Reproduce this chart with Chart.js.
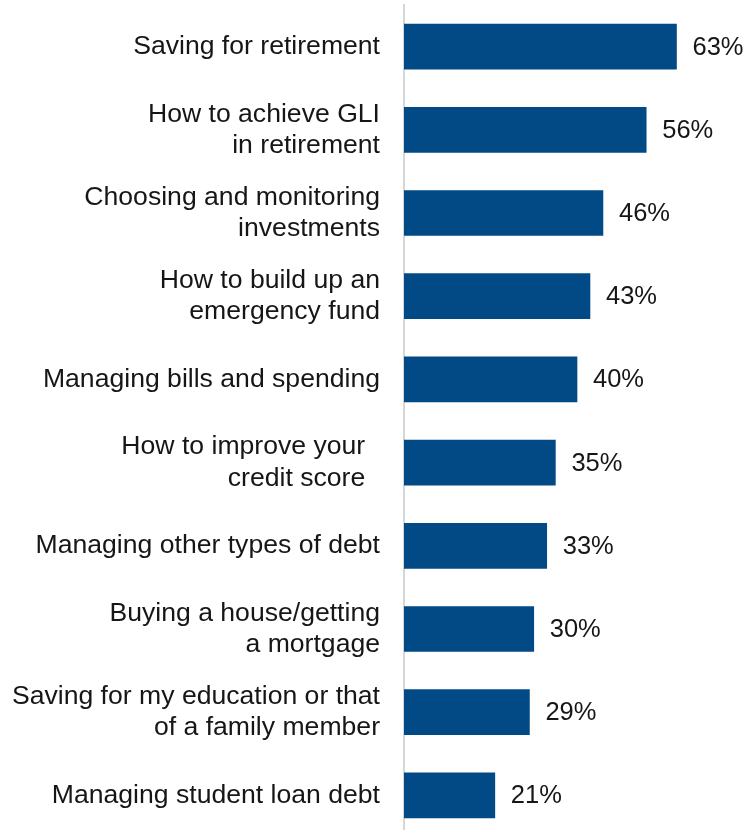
<!DOCTYPE html>
<html>
<head>
<meta charset="utf-8">
<script src="https://cdn.jsdelivr.net/npm/chart.js@4"></script>
<style>
  html, body { margin: 0; padding: 0; background: #ffffff; overflow: hidden; }
  #wrap { width: 750px; height: 840px; }
</style>
</head>
<body>
<div id="wrap"><canvas id="chart"></canvas></div>
<script>
// Topics and share of respondents (%)
const topics = [
  ["Saving for retirement"],
  ["How to achieve GLI", "in retirement"],
  ["Choosing and monitoring", "investments"],
  ["How to build up an", "emergency fund"],
  ["Managing bills and spending"],
  ["How to improve your  ", "credit score  "],
  ["Managing other types of debt"],
  ["Buying a house/getting", "a mortgage"],
  ["Saving for my education or that", "of a family member"],
  ["Managing student loan debt"]
];
const shares = [63, 56, 46, 43, 40, 35, 33, 30, 29, 21];

const BAR_COLOR = "#024a86";
const TEXT_COLOR = "#161616";
const FONT_FAMILY = "'Liberation Sans', Arial, sans-serif";

// Writes the percentage just past the end of each bar
const valueLabels = {
  id: "valueLabels",
  afterDatasetsDraw(chart) {
    const ctx = chart.ctx;
    const meta = chart.getDatasetMeta(0);
    ctx.save();
    ctx.font = "25.5px " + FONT_FAMILY;
    ctx.fillStyle = TEXT_COLOR;
    ctx.textAlign = "left";
    ctx.textBaseline = "middle";
    meta.data.forEach((bar, i) => {
      ctx.fillText(shares[i] + "%", bar.x + 16, bar.y + 1);
    });
    ctx.restore();
  }
};

new Chart(document.getElementById("chart"), {
  type: "bar",
  data: {
    labels: topics,
    datasets: [{
      data: shares,
      backgroundColor: BAR_COLOR,
      borderWidth: 0,
      barThickness: 45
    }]
  },
  options: {
    indexAxis: "y",
    responsive: true,
    maintainAspectRatio: false,
    animation: false,
    layout: { padding: { top: 5, bottom: 3, left: 0, right: 0 } },
    plugins: {
      legend: { display: false },
      tooltip: { enabled: false }
    },
    scales: {
      x: {
        min: 0,
        max: 80,
        display: false,
        grid: { display: false }
      },
      y: {
        afterFit(scale) {
          scale.width = 404;
          scale.paddingTop = 0;
          scale.paddingBottom = 0;
        },
        grid: { display: false, drawTicks: false },
        border: { display: true, color: "#d6d6d6", width: 2 },
        ticks: {
          color: TEXT_COLOR,
          padding: 24,
          font: { family: FONT_FAMILY, size: 26.6, lineHeight: 1.17 }
        }
      }
    }
  },
  plugins: [valueLabels]
});
</script>
</body>
</html>
